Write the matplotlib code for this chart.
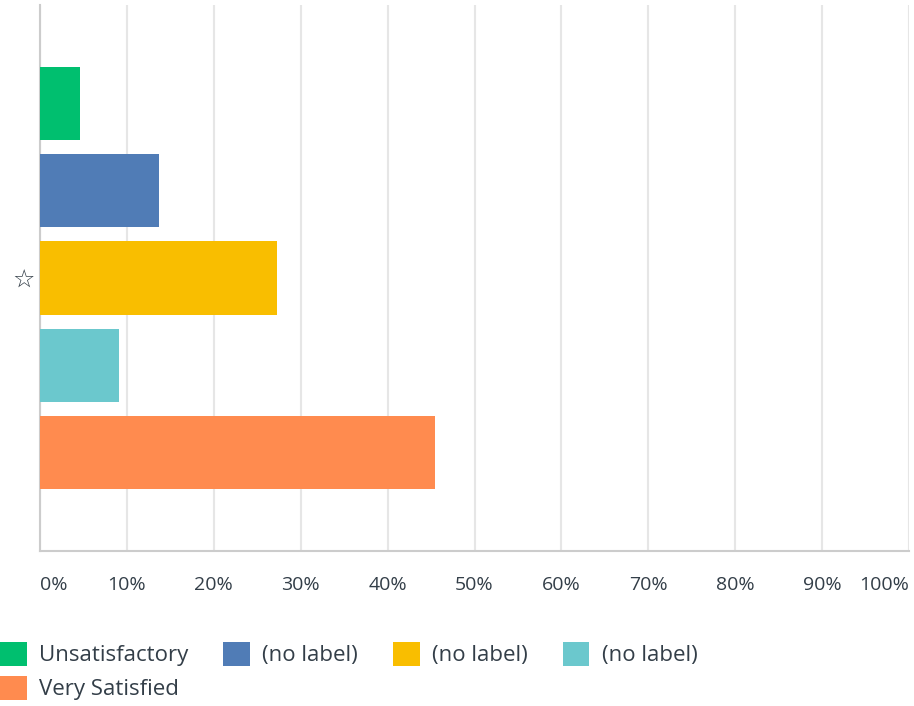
import matplotlib.pyplot as plt
from matplotlib.patches import Patch

# survey answers, share of respondents (%)
labels = ["Unsatisfactory", "(no label)", "(no label)", "(no label)", "Very Satisfied"]
values = [4.55, 13.64, 27.27, 9.09, 45.45]
colors = ["#00bf6f", "#507cb6", "#f9be00", "#6bc8cd", "#ff8b4f"]
xticks = [0, 10, 20, 30, 40, 50, 60, 70, 80, 90, 100]
xticklabels = ["0%", "10%", "20%", "30%", "40%", "50%", "60%", "70%", "80%", "90%", "100%"]
category = "\u2606"

plt.rcParams['font.family'] = ['Open Sans', 'DejaVu Sans']
txt = "#333e48"

fig = plt.figure(figsize=(9.14, 7.06), dpi=100)
ax = fig.add_axes([40/914, 1-551/706, 869/914, 546/706])

pos = list(range(len(values)))
ax.barh(pos, values, height=0.84, color=colors, zorder=3)

ax.set_xlim(0, 100)
ax.set_ylim(len(values) - 1 + 1.13, -1.13)
ax.set_xticks(xticks)
ax.set_xticklabels(xticklabels, fontsize=14, color=txt)
tl = ax.get_xticklabels()
tl[0].set_ha('left')
tl[-1].set_ha('right')
ax.set_yticks([2])
ax.set_yticklabels([category], fontsize=18, color=txt, family='DejaVu Sans', weight='bold')
ax.tick_params(axis='both', length=0)
ax.tick_params(axis='x', pad=18)
ax.tick_params(axis='y', pad=4)

ax.grid(axis='x', color="#e6e6e6", linewidth=1.5, zorder=0)
for s in ['top', 'right']:
    ax.spines[s].set_visible(False)
ax.spines['left'].set_color("#cccccc")
ax.spines['left'].set_linewidth(1.5)
ax.spines['bottom'].set_color("#cccccc")
ax.spines['bottom'].set_linewidth(1.5)

handles = [Patch(facecolor=c, edgecolor='none') for c in colors]
order = [0, 4, 1, 2, 3]
leg = fig.legend([handles[i] for i in order], [labels[i] for i in order],
                 ncol=4, loc='upper left', bbox_to_anchor=(0, 1-642/706),
                 frameon=False, fontsize=16, handlelength=1.2, handleheight=1.25,
                 handletextpad=0.55, columnspacing=1.58, labelspacing=0.45,
                 borderaxespad=0, borderpad=0)
for t in leg.get_texts():
    t.set_color(txt)

fig.savefig("out.png", dpi=100, facecolor='white')
